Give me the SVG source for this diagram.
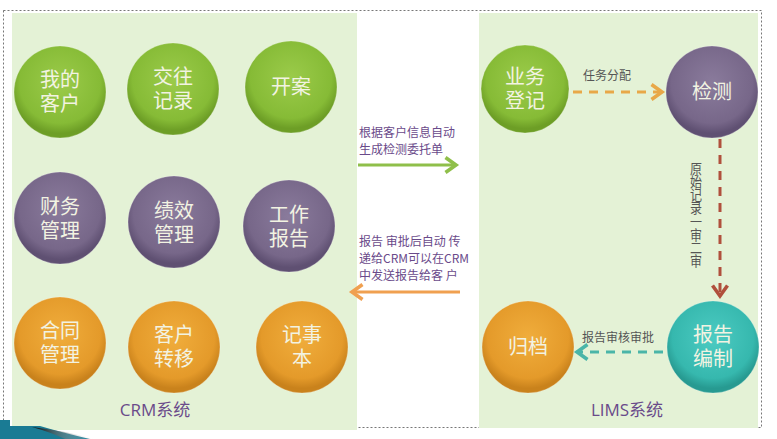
<svg xmlns="http://www.w3.org/2000/svg" width="777" height="439" viewBox="0 0 777 439">
<defs>
<radialGradient id="gG" cx="50%" cy="40%" r="55%"><stop offset="0" stop-color="#9bcb4a"/><stop offset="0.8" stop-color="#86bb36"/><stop offset="1" stop-color="#6d9e26"/></radialGradient>
<radialGradient id="gP" cx="50%" cy="40%" r="55%"><stop offset="0" stop-color="#8a7b9c"/><stop offset="0.8" stop-color="#776789"/><stop offset="1" stop-color="#5f5072"/></radialGradient>
<radialGradient id="gO" cx="50%" cy="40%" r="55%"><stop offset="0" stop-color="#f0ad3c"/><stop offset="0.8" stop-color="#e49a2a"/><stop offset="1" stop-color="#c9821c"/></radialGradient>
<radialGradient id="gT" cx="50%" cy="40%" r="55%"><stop offset="0" stop-color="#4ccbc2"/><stop offset="0.8" stop-color="#36b8ae"/><stop offset="1" stop-color="#279a91"/></radialGradient>
<linearGradient id="sw" x1="0" y1="0" x2="1" y2="0"><stop offset="0" stop-color="#000"/><stop offset="1" stop-color="#fff" stop-opacity="0"/></linearGradient>
<marker id="aG" markerWidth="6" markerHeight="6" refX="4" refY="3" orient="auto" markerUnits="strokeWidth"><path d="M0.5,0.5 L4,3 L0.5,5.5" fill="none" stroke="#8fbf4a" stroke-width="1.2"/></marker>
<marker id="aO" markerWidth="6" markerHeight="6" refX="4" refY="3" orient="auto" markerUnits="strokeWidth"><path d="M0.5,0.5 L4,3 L0.5,5.5" fill="none" stroke="#f0a050" stroke-width="1.2"/></marker>
<marker id="aD" markerWidth="6" markerHeight="6" refX="4" refY="3" orient="auto" markerUnits="strokeWidth"><path d="M0.5,0.5 L4,3 L0.5,5.5" fill="none" stroke="#e8a848" stroke-width="1.2"/></marker>
<marker id="aR" markerWidth="6" markerHeight="6" refX="4" refY="3" orient="auto" markerUnits="strokeWidth"><path d="M0.5,0.5 L4,3 L0.5,5.5" fill="none" stroke="#b0503c" stroke-width="1.2"/></marker>
<marker id="aT" markerWidth="6" markerHeight="6" refX="4" refY="3" orient="auto" markerUnits="strokeWidth"><path d="M0.5,0.5 L4,3 L0.5,5.5" fill="none" stroke="#4ab5a8" stroke-width="1.2"/></marker>
</defs>
<style>
.ct{font-family:"Noto Sans CJK SC","Liberation Sans",sans-serif;font-size:20px;fill:#f2f3e2;text-anchor:middle}
.lb{font-family:"Noto Sans CJK SC","Liberation Sans",sans-serif;font-size:12px;fill:#6a4a8a}
.lg{font-family:"Noto Sans CJK SC","Liberation Sans",sans-serif;font-size:12px;fill:#555}
.vt{writing-mode:vertical-rl;text-orientation:upright}
.sys{font-family:"Open Sans","Noto Sans CJK SC",sans-serif;font-size:17px;fill:#6a4a8a;text-anchor:middle}
.c{stroke:#fff;stroke-opacity:0.25;stroke-width:1}
</style>
<rect width="777" height="439" fill="#fff"/>
<rect x="3.5" y="10.5" width="758" height="417" fill="none" stroke="#777" stroke-width="1" stroke-dasharray="2,2"/>
<rect x="12" y="13" width="345" height="417" fill="#e4f2d6"/>
<rect x="479" y="13" width="279" height="415" fill="#e4f2d6"/>
<g id="deco">
<path d="M0,420 L10,420 L10,426 L40,426 Q60,432 90,439 L0,439 Z" fill="#1a7b94"/>
<path d="M32,427 Q60,430 95,439 L65,439 Q50,432 32,427 Z" fill="url(#sw)"/>
</g>
<g id="n-wodekehu"><circle cx="60" cy="92" r="46" fill="url(#gG)" class="c"/><text class="ct" x="60" y="87">我的<tspan x="60" dy="24">客户</tspan></text></g>
<g id="n-jiaowang"><circle cx="173" cy="89" r="46" fill="url(#gG)" class="c"/><text class="ct" x="173" y="84">交往<tspan x="173" dy="24">记录</tspan></text></g>
<g id="n-kaian"><circle cx="291" cy="87" r="46" fill="url(#gG)" class="c"/><text class="ct" x="291" y="94">开案</text></g>
<g id="n-caiwu"><circle cx="60" cy="218" r="46" fill="url(#gP)" class="c"/><text class="ct" x="60" y="214">财务<tspan x="60" dy="24">管理</tspan></text></g>
<g id="n-jixiao"><circle cx="174" cy="222" r="46" fill="url(#gP)" class="c"/><text class="ct" x="174" y="218">绩效<tspan x="174" dy="24">管理</tspan></text></g>
<g id="n-gongzuo"><circle cx="289" cy="226" r="46" fill="url(#gP)" class="c"/><text class="ct" x="289" y="222">工作<tspan x="289" dy="24">报告</tspan></text></g>
<g id="n-hetong"><circle cx="60" cy="343" r="46" fill="url(#gO)" class="c"/><text class="ct" x="60" y="338">合同<tspan x="60" dy="24">管理</tspan></text></g>
<g id="n-kehuzhuanyi"><circle cx="174" cy="347" r="46" fill="url(#gO)" class="c"/><text class="ct" x="174" y="342">客户<tspan x="174" dy="24">转移</tspan></text></g>
<g id="n-jishiben"><circle cx="302" cy="347" r="46" fill="url(#gO)" class="c"/><text class="ct" x="302" y="342">记事<tspan x="302" dy="24">本</tspan></text></g>
<g id="n-yewu"><circle cx="525" cy="89" r="44" fill="url(#gG)" class="c"/><text class="ct" x="525" y="84">业务<tspan x="525" dy="24">登记</tspan></text></g>
<g id="n-jiance"><circle cx="712" cy="92" r="46" fill="url(#gP)" class="c"/><text class="ct" x="712" y="99">检测</text></g>
<g id="n-baogao"><circle cx="713" cy="347" r="46" fill="url(#gT)" class="c"/><text class="ct" x="713" y="342">报告<tspan x="713" dy="24">编制</tspan></text></g>
<g id="n-guidang"><circle cx="528" cy="347" r="46" fill="url(#gO)" class="c"/><text class="ct" x="528" y="354">归档</text></g>
<g id="connectors" fill="none">
<line x1="358" y1="165" x2="456" y2="165" stroke="#8fbf4a" stroke-width="3" marker-end="url(#aG)"/>
<line x1="460" y1="292" x2="352" y2="292" stroke="#f0a050" stroke-width="3" marker-end="url(#aO)"/>
<line x1="573" y1="92" x2="662" y2="92" stroke="#e8a848" stroke-width="3" stroke-dasharray="9,7" marker-end="url(#aD)"/>
<line x1="720" y1="139" x2="720" y2="296" stroke="#b0503c" stroke-width="3" stroke-dasharray="9,7" marker-end="url(#aR)"/>
<line x1="663" y1="352" x2="577" y2="352" stroke="#4ab5a8" stroke-width="3" stroke-dasharray="9,7" marker-end="url(#aT)"/>
</g>
<g id="labels">
<text class="lb" x="359" y="137">根据客户信息自动<tspan x="359" dy="17">生成检测委托单</tspan></text>
<text class="lb" x="359" y="246">报告 审批后自动 传<tspan x="359" dy="17">递给CRM可以在CRM</tspan><tspan x="359" dy="17">中发送报告给客 户</tspan></text>
<text class="lg" x="583" y="80">任务分配</text>
<text class="lg" x="582" y="342">报告审核审批</text>
<text class="lg vt" x="696" y="162" textLength="106" lengthAdjust="spacingAndGlyphs">原始记录一审二审</text>
<text class="sys" x="155" y="416">CRM系统</text>
<text class="sys" x="627" y="416">LIMS系统</text>
</g>
</svg>
